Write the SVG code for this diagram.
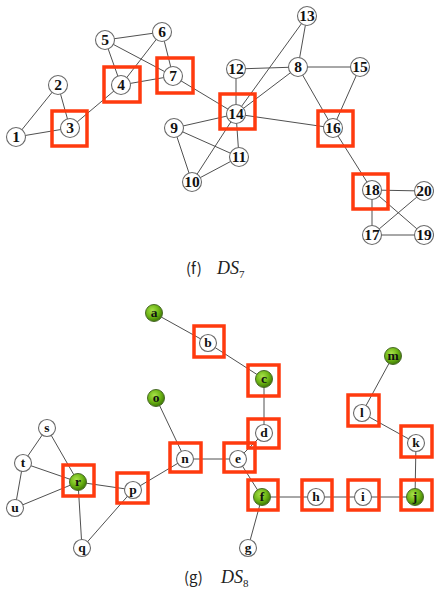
<svg xmlns="http://www.w3.org/2000/svg" width="434" height="591" viewBox="0 0 434 591">
<defs>
  <radialGradient id="green" cx="0.4" cy="0.35" r="0.65">
    <stop offset="0" stop-color="#a8e24a"/>
    <stop offset="0.6" stop-color="#6cb414"/>
    <stop offset="1" stop-color="#3f7a05"/>
  </radialGradient>
</defs>
<style>
  .e { stroke: #505050; stroke-width: 1; fill: none; }
  .n { fill: #ffffff; stroke: #6a6a6a; stroke-width: 1.1; }
  .g { fill: url(#green); stroke: #4a6a2a; stroke-width: 1; }
  .b { fill: none; stroke: #ff3a0e; stroke-width: 3.5; }
  .t1 { font-family: "Liberation Serif", serif; font-weight: bold; font-size: 15.5px; fill: #111; text-anchor: middle; }
  .t2 { font-family: "Liberation Serif", serif; font-weight: bold; font-size: 13.5px; fill: #111; text-anchor: middle; }
  .cap { font-family: "Noto Sans CJK KR", "DejaVu Sans", sans-serif; font-size: 15px; fill: #222; }
  .ds { font-family: "Liberation Serif", serif; font-style: italic; font-size: 18px; fill: #222; }
  .sub { font-family: "Liberation Serif", serif; font-style: normal; font-size: 11px; }
</style>
<rect width="434" height="591" fill="#ffffff"/>

<!-- DS7 edges -->
<g id="edges-ds7">
  <line class="e" x1="16" y1="137" x2="58" y2="85"/>
  <line class="e" x1="16" y1="137" x2="70" y2="128"/>
  <line class="e" x1="58" y1="85" x2="70" y2="128"/>
  <line class="e" x1="70" y1="128" x2="121" y2="85"/>
  <line class="e" x1="121" y1="85" x2="105" y2="40"/>
  <line class="e" x1="121" y1="85" x2="162" y2="32"/>
  <line class="e" x1="121" y1="85" x2="173" y2="76"/>
  <line class="e" x1="105" y1="40" x2="162" y2="32"/>
  <line class="e" x1="105" y1="40" x2="173" y2="76"/>
  <line class="e" x1="162" y1="32" x2="173" y2="76"/>
  <line class="e" x1="173" y1="76" x2="236" y2="114"/>
  <line class="e" x1="174" y1="128" x2="236" y2="114"/>
  <line class="e" x1="174" y1="128" x2="239" y2="157"/>
  <line class="e" x1="174" y1="128" x2="192" y2="182"/>
  <line class="e" x1="192" y1="182" x2="236" y2="114"/>
  <line class="e" x1="192" y1="182" x2="239" y2="157"/>
  <line class="e" x1="239" y1="157" x2="236" y2="114"/>
  <line class="e" x1="236" y1="69" x2="236" y2="114"/>
  <line class="e" x1="236" y1="69" x2="298" y2="67"/>
  <line class="e" x1="307" y1="16" x2="298" y2="67"/>
  <line class="e" x1="307" y1="16" x2="236" y2="114"/>
  <line class="e" x1="298" y1="67" x2="236" y2="114"/>
  <line class="e" x1="298" y1="67" x2="360" y2="67"/>
  <line class="e" x1="298" y1="67" x2="333" y2="128"/>
  <line class="e" x1="360" y1="67" x2="333" y2="128"/>
  <line class="e" x1="236" y1="114" x2="333" y2="128"/>
  <line class="e" x1="333" y1="128" x2="372" y2="190"/>
  <line class="e" x1="372" y1="190" x2="424" y2="191"/>
  <line class="e" x1="372" y1="190" x2="372" y2="235"/>
  <line class="e" x1="372" y1="190" x2="424" y2="235"/>
  <line class="e" x1="372" y1="235" x2="424" y2="235"/>
  <line class="e" x1="372" y1="235" x2="424" y2="191"/>
</g>

<!-- DS7 nodes -->
<g id="n1"><circle class="n" cx="16" cy="137" r="9.5"/><text class="t1" x="16" y="142">1</text></g>
<g id="n2"><circle class="n" cx="58" cy="85" r="9.5"/><text class="t1" x="58" y="90">2</text></g>
<g id="n3"><circle class="n" cx="70" cy="128" r="9.5"/><text class="t1" x="70" y="133">3</text><rect class="b" x="52" y="111" width="35" height="35"/></g>
<g id="n4"><circle class="n" cx="121" cy="85" r="9.5"/><text class="t1" x="121" y="90">4</text><rect class="b" x="104" y="67" width="36" height="35"/></g>
<g id="n5"><circle class="n" cx="105" cy="40" r="9.5"/><text class="t1" x="105" y="45">5</text></g>
<g id="n6"><circle class="n" cx="162" cy="32" r="9.5"/><text class="t1" x="162" y="37">6</text></g>
<g id="n7"><circle class="n" cx="173" cy="76" r="9.5"/><text class="t1" x="173" y="81">7</text><rect class="b" x="157" y="58" width="36" height="35"/></g>
<g id="n8"><circle class="n" cx="298" cy="67" r="9.5"/><text class="t1" x="298" y="72">8</text></g>
<g id="n9"><circle class="n" cx="174" cy="128" r="9.5"/><text class="t1" x="174" y="133">9</text></g>
<g id="n10"><circle class="n" cx="192" cy="182" r="9.5"/><text class="t1" x="192" y="187">10</text></g>
<g id="n11"><circle class="n" cx="239" cy="157" r="9.5"/><text class="t1" x="239" y="162">11</text></g>
<g id="n12"><circle class="n" cx="236" cy="69" r="9.5"/><text class="t1" x="236" y="74">12</text></g>
<g id="n13"><circle class="n" cx="307" cy="16" r="9.5"/><text class="t1" x="307" y="21">13</text></g>
<g id="n14"><circle class="n" cx="236" cy="114" r="9.5"/><text class="t1" x="236" y="119">14</text><rect class="b" x="220" y="94" width="35" height="35"/></g>
<g id="n15"><circle class="n" cx="360" cy="67" r="9.5"/><text class="t1" x="360" y="72">15</text></g>
<g id="n16"><circle class="n" cx="333" cy="128" r="9.5"/><text class="t1" x="333" y="133">16</text><rect class="b" x="318" y="111" width="35" height="35"/></g>
<g id="n17"><circle class="n" cx="372" cy="235" r="9.5"/><text class="t1" x="372" y="240">17</text></g>
<g id="n18"><circle class="n" cx="372" cy="190" r="9.5"/><text class="t1" x="372" y="195">18</text><rect class="b" x="353" y="174" width="35" height="35"/></g>
<g id="n19"><circle class="n" cx="424" cy="235" r="9.5"/><text class="t1" x="424" y="240">19</text></g>
<g id="n20"><circle class="n" cx="424" cy="191" r="9.5"/><text class="t1" x="424" y="196">20</text></g>

<g id="caption-f">
  <text class="cap" x="186" y="274">(f)</text>
  <text class="ds" x="217" y="274">DS<tspan class="sub" dy="4">7</tspan></text>
</g>

<!-- DS8 edges -->
<g id="edges-ds8">
  <line class="e" x1="154" y1="313" x2="208" y2="343"/>
  <line class="e" x1="208" y1="343" x2="264" y2="379"/>
  <line class="e" x1="264" y1="379" x2="264" y2="433"/>
  <line class="e" x1="264" y1="433" x2="238" y2="459"/>
  <line class="e" x1="238" y1="459" x2="185" y2="459"/>
  <line class="e" x1="185" y1="459" x2="156" y2="398"/>
  <line class="e" x1="185" y1="459" x2="133" y2="490"/>
  <line class="e" x1="133" y1="490" x2="78" y2="482"/>
  <line class="e" x1="133" y1="490" x2="82" y2="548"/>
  <line class="e" x1="78" y1="482" x2="47" y2="428"/>
  <line class="e" x1="78" y1="482" x2="23" y2="463"/>
  <line class="e" x1="78" y1="482" x2="15" y2="508"/>
  <line class="e" x1="78" y1="482" x2="82" y2="548"/>
  <line class="e" x1="47" y1="428" x2="23" y2="463"/>
  <line class="e" x1="23" y1="463" x2="15" y2="508"/>
  <line class="e" x1="238" y1="459" x2="262" y2="497"/>
  <line class="e" x1="262" y1="497" x2="248" y2="548"/>
  <line class="e" x1="262" y1="497" x2="316" y2="497"/>
  <line class="e" x1="316" y1="497" x2="363" y2="497"/>
  <line class="e" x1="363" y1="497" x2="415" y2="497"/>
  <line class="e" x1="415" y1="497" x2="416" y2="443"/>
  <line class="e" x1="416" y1="443" x2="362" y2="413"/>
  <line class="e" x1="362" y1="413" x2="393" y2="356"/>
</g>

<!-- DS8 nodes -->
<g id="na"><circle class="g" cx="154" cy="313" r="8.5"/><text class="t2" x="154" y="317">a</text></g>
<g id="nb"><circle class="n" cx="208" cy="343" r="8.5"/><text class="t2" x="208" y="347">b</text><rect class="b" x="194" y="326" width="30" height="31"/></g>
<g id="nc"><circle class="g" cx="264" cy="379" r="8.5"/><text class="t2" x="264" y="383">c</text><rect class="b" x="248" y="365" width="31" height="31"/></g>
<g id="nd"><circle class="n" cx="264" cy="433" r="8.5"/><text class="t2" x="264" y="437">d</text><rect class="b" x="248" y="419" width="31" height="29"/></g>
<g id="ne"><circle class="n" cx="238" cy="459" r="8.5"/><text class="t2" x="238" y="463">e</text><rect class="b" x="224" y="443" width="31" height="29"/></g>
<g id="nf"><circle class="g" cx="262" cy="497" r="8.5"/><text class="t2" x="262" y="501">f</text><rect class="b" x="248" y="480" width="30" height="30"/></g>
<g id="ng"><circle class="n" cx="248" cy="548" r="8.5"/><text class="t2" x="248" y="552">g</text></g>
<g id="nh"><circle class="n" cx="316" cy="497" r="8.5"/><text class="t2" x="316" y="501">h</text><rect class="b" x="302" y="480" width="30" height="30"/></g>
<g id="ni"><circle class="n" cx="363" cy="497" r="8.5"/><text class="t2" x="363" y="501">i</text><rect class="b" x="348" y="480" width="31" height="30"/></g>
<g id="nj"><circle class="g" cx="415" cy="497" r="8.5"/><text class="t2" x="415" y="501">j</text><rect class="b" x="401" y="480" width="31" height="30"/></g>
<g id="nk"><circle class="n" cx="416" cy="443" r="8.5"/><text class="t2" x="416" y="447">k</text><rect class="b" x="401" y="426" width="31" height="31"/></g>
<g id="nl"><circle class="n" cx="362" cy="413" r="8.5"/><text class="t2" x="362" y="417">l</text><rect class="b" x="348" y="395" width="31" height="31"/></g>
<g id="nm"><circle class="g" cx="393" cy="356" r="8.5"/><text class="t2" x="393" y="360">m</text></g>
<g id="nn"><circle class="n" cx="185" cy="459" r="8.5"/><text class="t2" x="185" y="463">n</text><rect class="b" x="170" y="443" width="31" height="29"/></g>
<g id="no"><circle class="g" cx="156" cy="398" r="8.5"/><text class="t2" x="156" y="402">o</text></g>
<g id="np"><circle class="n" cx="133" cy="490" r="8.5"/><text class="t2" x="133" y="494">p</text><rect class="b" x="117" y="473" width="31" height="30"/></g>
<g id="nq"><circle class="n" cx="82" cy="548" r="8.5"/><text class="t2" x="82" y="552">q</text></g>
<g id="nr"><circle class="g" cx="78" cy="482" r="8.5"/><text class="t2" x="78" y="486">r</text><rect class="b" x="63" y="465" width="31" height="31"/></g>
<g id="ns"><circle class="n" cx="47" cy="428" r="8.5"/><text class="t2" x="47" y="432">s</text></g>
<g id="nt"><circle class="n" cx="23" cy="463" r="8.5"/><text class="t2" x="23" y="467">t</text></g>
<g id="nu"><circle class="n" cx="15" cy="508" r="8.5"/><text class="t2" x="15" y="512">u</text></g>

<g id="caption-g">
  <text class="cap" x="184" y="583">(g)</text>
  <text class="ds" x="221" y="583">DS<tspan class="sub" dy="4">8</tspan></text>
</g>
</svg>
